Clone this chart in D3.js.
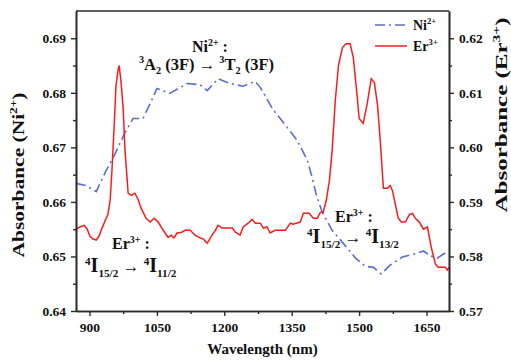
<!DOCTYPE html>
<html>
<head>
<meta charset="utf-8">
<script src="https://cdn.jsdelivr.net/npm/d3@7"></script>
<style>
  body { margin: 0; background: #fff; }
  svg { display: block; }
  text { font-family: "Liberation Serif", "Times New Roman", serif; font-weight: bold; fill: #111; }
</style>
</head>
<body>
<svg width="511" height="362"></svg>
<script>
// data
const niWavelength = [870, 892, 915, 935, 955, 979, 997, 1019, 1035, 1050, 1079, 1117, 1146, 1162, 1186, 1213, 1242, 1269, 1280, 1307, 1331, 1362, 1385, 1396, 1405, 1418, 1440, 1474, 1492, 1514, 1532, 1549, 1569, 1596, 1621, 1643, 1659, 1674, 1687, 1700];
const niAbs = [0.6634, 0.6630, 0.6619, 0.6654, 0.6685, 0.6727, 0.6753, 0.6753, 0.6780, 0.6808, 0.6799, 0.6817, 0.6815, 0.6804, 0.6826, 0.6817, 0.6812, 0.6821, 0.6810, 0.6771, 0.6746, 0.6713, 0.6676, 0.6643, 0.6612, 0.6581, 0.6548, 0.6515, 0.6497, 0.6482, 0.6480, 0.6468, 0.6484, 0.6499, 0.6504, 0.6510, 0.6501, 0.6497, 0.6504, 0.6510];

const erWavelength = [870, 879, 888, 895, 901, 908, 915, 921, 928, 935, 941, 946, 950, 955, 959, 964, 966, 970, 975, 979, 984, 986, 993, 1001, 1008, 1015, 1026, 1035, 1044, 1053, 1064, 1075, 1082, 1088, 1095, 1104, 1113, 1124, 1135, 1146, 1153, 1162, 1171, 1180, 1186, 1195, 1218, 1224, 1235, 1242, 1253, 1262, 1269, 1280, 1287, 1295, 1302, 1313, 1336, 1347, 1353, 1369, 1376, 1389, 1398, 1407, 1414, 1420, 1427, 1434, 1440, 1447, 1454, 1463, 1471, 1480, 1487, 1496, 1500, 1509, 1518, 1527, 1534, 1541, 1547, 1554, 1563, 1569, 1574, 1581, 1587, 1594, 1603, 1612, 1619, 1625, 1634, 1643, 1652, 1661, 1670, 1676, 1692, 1696, 1700];
const erAbs = [0.5850, 0.5854, 0.5857, 0.5850, 0.5837, 0.5832, 0.5830, 0.5837, 0.5852, 0.5866, 0.5877, 0.5903, 0.5958, 0.6040, 0.6113, 0.6144, 0.6150, 0.6122, 0.6071, 0.5994, 0.5940, 0.5916, 0.5912, 0.5916, 0.5905, 0.5888, 0.5870, 0.5863, 0.5870, 0.5863, 0.5848, 0.5835, 0.5839, 0.5834, 0.5843, 0.5844, 0.5848, 0.5848, 0.5839, 0.5834, 0.5832, 0.5824, 0.5837, 0.5848, 0.5857, 0.5852, 0.5852, 0.5845, 0.5839, 0.5854, 0.5861, 0.5868, 0.5861, 0.5861, 0.5852, 0.5854, 0.5843, 0.5848, 0.5848, 0.5861, 0.5859, 0.5863, 0.5879, 0.5879, 0.5870, 0.5870, 0.5881, 0.5881, 0.5903, 0.5940, 0.5994, 0.6086, 0.6150, 0.6183, 0.6190, 0.6190, 0.6165, 0.6091, 0.6053, 0.6044, 0.6080, 0.6126, 0.6119, 0.6077, 0.6013, 0.5925, 0.5925, 0.5930, 0.5921, 0.5894, 0.5870, 0.5863, 0.5863, 0.5877, 0.5879, 0.5870, 0.5863, 0.5850, 0.5854, 0.5815, 0.5786, 0.5780, 0.5780, 0.5775, 0.5780];

const xTicks = [900, 1050, 1200, 1350, 1500, 1650];
const xMinor = [975, 1125, 1275, 1425, 1575];
const niTicks = [0.64, 0.65, 0.66, 0.67, 0.68, 0.69];
const niMinor = [0.645, 0.655, 0.665, 0.675, 0.685];
const erTicks = [0.57, 0.58, 0.59, 0.60, 0.61, 0.62];
const erMinor = [0.575, 0.585, 0.595, 0.605, 0.615];

const svg = d3.select('svg');
const L = 76, R = 449, T = 11, B = 311;
const blue = '#5a6ed0', red = '#ff1a1a', axisCol = '#2a2a2a';

const x = d3.scaleLinear().domain([870, 1700]).range([L, R]);
const yNi = d3.scaleLinear().domain([0.64, 0.695]).range([B, T]);
const yEr = d3.scaleLinear().domain([0.57, 0.625]).range([B, T]);

// superscript / subscript text helper
function rich(x0, y0, parts, size, anchor) {
  const t = svg.append('text').attr('x', x0).attr('y', y0)
    .attr('font-size', size).attr('text-anchor', anchor || 'start');
  let off = 0;
  parts.forEach(p => {
    const base = p.fs || size;
    let fs = base, target = 0;
    if (p.sup) { fs = base * 0.62; target = -base * 0.4; }
    if (p.sub) { fs = base * 0.62; target = base * 0.25; }
    t.append('tspan').attr('font-size', fs).attr('dy', target - off).text(p.t);
    off = target;
  });
  return t;
}

// lines
const lineNi = d3.line().x((d, i) => x(niWavelength[i])).y(d => yNi(d));
const lineEr = d3.line().x((d, i) => x(erWavelength[i])).y(d => yEr(d));

svg.append('path').datum(niAbs).attr('d', lineNi)
  .attr('fill', 'none').attr('stroke', blue).attr('stroke-width', 1.6)
  .attr('stroke-dasharray', '10,4,2,4');
svg.append('path').datum(erAbs).attr('d', lineEr)
  .attr('fill', 'none').attr('stroke', red).attr('stroke-width', 1.5);

// axes
function styleAxis(g) {
  g.select('.domain').attr('stroke', axisCol).attr('stroke-width', 1.6);
  g.selectAll('.tick line').attr('stroke', axisCol).attr('stroke-width', 1.4);
  g.selectAll('.tick text').attr('font-size', 13.5).style('font-family', '"Liberation Serif", serif')
    .style('font-weight', 'bold').attr('fill', '#111');
}

svg.append('g').attr('transform', `translate(0,${B})`)
  .call(d3.axisBottom(x).tickValues(xMinor).tickSize(3).tickSizeOuter(0).tickFormat(''))
  .call(styleAxis);
svg.append('g').attr('transform', `translate(0,${B})`)
  .call(d3.axisBottom(x).tickValues(xTicks).tickSize(5).tickSizeOuter(0).tickPadding(6).tickFormat(d3.format('d')))
  .call(styleAxis);

svg.append('g').attr('transform', `translate(${L},0)`)
  .call(d3.axisLeft(yNi).tickValues(niMinor).tickSize(3).tickSizeOuter(0).tickFormat(''))
  .call(styleAxis);
svg.append('g').attr('transform', `translate(${L},0)`)
  .call(d3.axisLeft(yNi).tickValues(niTicks).tickSize(5).tickSizeOuter(0).tickPadding(5).tickFormat(d3.format('.2f')))
  .call(styleAxis);

svg.append('g').attr('transform', `translate(${R},0)`)
  .call(d3.axisRight(yEr).tickValues(erMinor).tickSize(3).tickSizeOuter(0).tickFormat(''))
  .call(styleAxis);
svg.append('g').attr('transform', `translate(${R},0)`)
  .call(d3.axisRight(yEr).tickValues(erTicks).tickSize(5).tickSizeOuter(0).tickPadding(5).tickFormat(d3.format('.2f')))
  .call(styleAxis);

// top frame
svg.append('line').attr('x1', L).attr('x2', R).attr('y1', T).attr('y2', T)
  .attr('stroke', axisCol).attr('stroke-width', 1.6);
svg.selectAll('.domain').raise();

// axis titles
svg.append('text').attr('x', (L + R) / 2).attr('y', 354).attr('text-anchor', 'middle')
  .attr('font-size', 15).text('Wavelength (nm)');

const yl = rich(0, 0, [{t: 'Absorbance (Ni'}, {t: '2+', sup: true}, {t: ')'}], 16, 'middle');
yl.attr('transform', 'translate(23.5,175) rotate(-90)')
  .attr('textLength', 165).attr('lengthAdjust', 'spacingAndGlyphs');
const yr = rich(0, 0, [{t: 'Absorbance (Er'}, {t: '3+', sup: true}, {t: ')'}], 16, 'middle');
yr.attr('transform', 'translate(506.5,115) rotate(-90)')
  .attr('textLength', 195).attr('lengthAdjust', 'spacingAndGlyphs');

// legend
svg.append('line').attr('x1', 375).attr('x2', 407).attr('y1', 25).attr('y2', 25)
  .attr('stroke', blue).attr('stroke-width', 1.6).attr('stroke-dasharray', '10,4,2,4');
rich(413, 30, [{t: 'Ni'}, {t: '2+', sup: true}], 14);
svg.append('line').attr('x1', 375).attr('x2', 407).attr('y1', 46).attr('y2', 46)
  .attr('stroke', red).attr('stroke-width', 1.5);
rich(413, 51, [{t: 'Er'}, {t: '3+', sup: true}], 14);

// annotations
rich(192, 52, [{t: 'Ni'}, {t: '2+', sup: true}, {t: ' :'}], 16);
rich(139, 70, [
  {t: '3', sup: true}, {t: 'A'}, {t: '2', sub: true}, {t: ' (3F) → '},
  {t: '3', sup: true}, {t: 'T'}, {t: '2', sub: true}, {t: ' (3F)'}
], 16.5);

rich(112, 249, [{t: 'Er'}, {t: '3+', sup: true}, {t: ' :'}], 16);
rich(85, 272, [
  {t: '4', sup: true, fs: 18}, {t: 'I', fs: 20}, {t: '15/2', sub: true, fs: 18}, {t: ' → ', fs: 17},
  {t: '4', sup: true, fs: 18}, {t: 'I', fs: 20}, {t: '11/2', sub: true, fs: 18}
], 17);

rich(335, 222, [{t: 'Er'}, {t: '3+', sup: true}, {t: ' :'}], 16);
rich(307, 243, [
  {t: '4', sup: true, fs: 18}, {t: 'I', fs: 20}, {t: '15/2', sub: true, fs: 18}, {t: ' → ', fs: 17},
  {t: '4', sup: true, fs: 18}, {t: 'I', fs: 20}, {t: '13/2', sub: true, fs: 18}
], 17);
</script>
</body>
</html>
